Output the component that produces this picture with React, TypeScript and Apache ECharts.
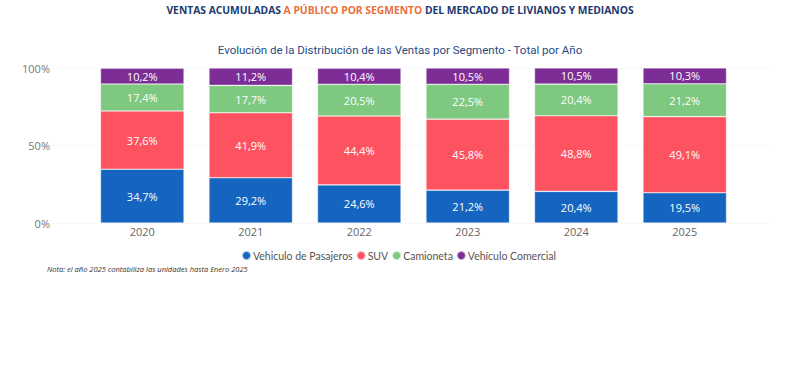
import React, { useEffect, useRef } from "react";
import * as echarts from "echarts";

const years = ["2020", "2021", "2022", "2023", "2024", "2025"];
const pasajeros = [34.7, 29.2, 24.6, 21.2, 20.4, 19.5];
const suv = [37.6, 41.9, 44.4, 45.8, 48.8, 49.1];
const camioneta = [17.4, 17.7, 20.5, 22.5, 20.4, 21.2];
const comercial = [10.2, 11.2, 10.4, 10.5, 10.5, 10.3];
const seriesNames = ["Vehiculo de Pasajeros", "SUV", "Camioneta", "Vehículo Comercial"];
const yTicks = [0, 50, 100];

const colors = ["#1565c0", "#fd5361", "#7ec87f", "#7d2e96"];

export default function App() {
  const ref = useRef<HTMLDivElement>(null);
  useEffect(() => {
    const chart = echarts.init(ref.current!, undefined, { renderer: "svg" });
    const seriesData = [pasajeros, suv, camioneta, comercial];
    chart.setOption({
      animation: false,
      color: colors,
      textStyle: { fontFamily: "Open Sans" },
      title: [
        {
          left: "center",
          top: 0,
          text: "{a|VENTAS ACUMULADAS }{b|A PÚBLICO POR SEGMENTO}{a| DEL MERCADO DE LIVIANOS Y MEDIANOS}",
          textStyle: {
            rich: {
              a: { fontSize: 10.3, fontWeight: "bold", color: "#1b3a6e", fontFamily: "Open Sans" },
              b: { fontSize: 10.3, fontWeight: "bold", color: "#e8703a", fontFamily: "Open Sans" },
            },
          },
        },
        {
          left: "center",
          top: 39,
          text: "Evolución de la Distribución de las Ventas por Segmento - Total por Año",
          textStyle: { fontSize: 11.5, fontWeight: "normal", color: "#284b82", fontFamily: "Roboto" },
        },
        {
          left: 42,
          top: 260,
          text: "Nota: el año 2025 contabiliza las unidades hasta Enero 2025",
          textStyle: { fontSize: 7.5, fontStyle: "italic", fontWeight: "normal", color: "#333", fontFamily: "Open Sans" },
        },
      ],
      legend: {
        top: 245,
        left: 236,
        itemWidth: 9,
        itemHeight: 9,
        itemGap: 3,
        icon: "circle",
        textStyle: { fontSize: 10.5, color: "#555", fontFamily: "Lato", padding: [0, 0, 0, -3] },
        data: seriesNames,
      },
      grid: [
        { left: 53, right: 30, top: 68, height: 155, containLabel: false },
        { left: 88, right: 61, top: 68, height: 155, containLabel: false },
      ],
      xAxis: [
        { type: "category", gridIndex: 0, data: years, show: false },
        {
          type: "category",
          gridIndex: 1,
          data: years,
          axisLine: { show: false },
          axisTick: { show: false },
          axisLabel: { color: "#666", fontSize: 11, margin: 3 },
        },
      ],
      yAxis: [
        {
          type: "value",
          gridIndex: 0,
          min: 0,
          max: 100,
          interval: 50,
          axisLabel: {
            color: "#777",
            fontSize: 11,
            margin: 3,
            formatter: (v: number) => (yTicks.includes(v) ? v + "%" : ""),
          },
          axisLine: { show: false },
          axisTick: { show: false },
          splitLine: { lineStyle: { color: "#e6e6e6", type: [1, 3] } },
        },
        { type: "value", gridIndex: 1, min: 0, max: 100, show: false },
      ],
      series: seriesNames.map((name, i) => ({
        name,
        type: "bar",
        stack: "total",
        xAxisIndex: 1,
        yAxisIndex: 1,
        barCategoryGap: "23%",
        data: seriesData[i],
        itemStyle: { color: colors[i], borderColor: "rgba(255,255,255,0.6)", borderWidth: 0.6 },
        label: {
          show: true,
          color: "#fff",
          fontSize: 11,
          formatter: (p: any) => p.value.toFixed(1).replace(".", ",") + "%",
        },
      })),
    });
    return () => chart.dispose();
  }, []);
  return <div ref={ref} style={{ position: "absolute", left: 0, top: 0, width: 800, height: 389, background: "#fff" }} />;
}
